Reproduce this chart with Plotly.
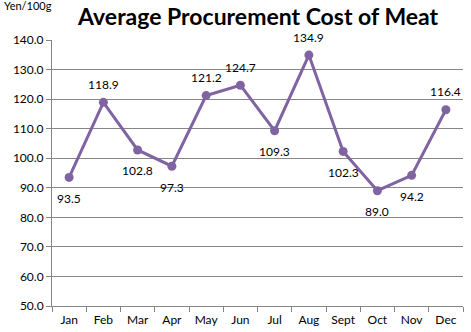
import plotly.graph_objects as go

months = ["Jan", "Feb", "Mar", "Apr", "May", "Jun", "Jul", "Aug", "Sept", "Oct", "Nov", "Dec"]
cost = [93.5, 118.9, 102.8, 97.3, 121.2, 124.7, 109.3, 134.9, 102.3, 89.0, 94.2, 116.4]
label_side = ["below", "above", "below", "below", "above", "above",
              "below", "above", "below", "below", "below", "above"]

purple = "#8064A2"
font_family = "Lato, 'Open Sans', sans-serif"

fig = go.Figure()
fig.add_trace(go.Scatter(
    x=months, y=cost, mode="lines+markers",
    line=dict(color=purple, width=3),
    marker=dict(color=purple, size=9),
    hoverinfo="x+y",
))

for m, v, side in zip(months, cost, label_side):
    fig.add_annotation(
        x=m, y=v, text=f"{v:.1f}", showarrow=False,
        yshift=18 if side == "above" else -21,
        font=dict(family=font_family, size=12, color="#000000"),
    )

fig.add_annotation(
    xref="paper", yref="paper", x=-0.122, y=1.13, xanchor="left", yanchor="middle",
    text="Yen/100g", showarrow=False,
    font=dict(family=font_family, size=11, color="#000000"),
)

fig.update_layout(
    width=471, height=332,
    margin=dict(l=52, r=8, t=40, b=26, autoexpand=False),
    paper_bgcolor="white", plot_bgcolor="white",
    showlegend=False,
    title=dict(
        text="<b>Average Procurement Cost of Meat</b>",
        x=0.548, xanchor="center", y=0.95, yanchor="middle",
        font=dict(family=font_family, size=23, color="#000000"),
    ),
    xaxis=dict(
        type="category", tickson="boundaries", ticks="outside", ticklen=5,
        tickcolor="#868686", showline=True, linecolor="#868686", linewidth=1,
        showgrid=False, tickfont=dict(family=font_family, size=12, color="#000000"),
        range=[-0.5, 11.5], ticklabelstandoff=3, automargin=False,
    ),
    yaxis=dict(
        range=[50, 140], dtick=10, tickformat=".1f", showgrid=True,
        gridcolor="#868686", gridwidth=1, showline=True, linecolor="#868686",
        ticks="outside", ticklen=5, tickcolor="#868686", zeroline=False,
        tickfont=dict(family=font_family, size=12, color="#000000"),
        automargin=False,
    ),
)

fig.write_html("out.html")
